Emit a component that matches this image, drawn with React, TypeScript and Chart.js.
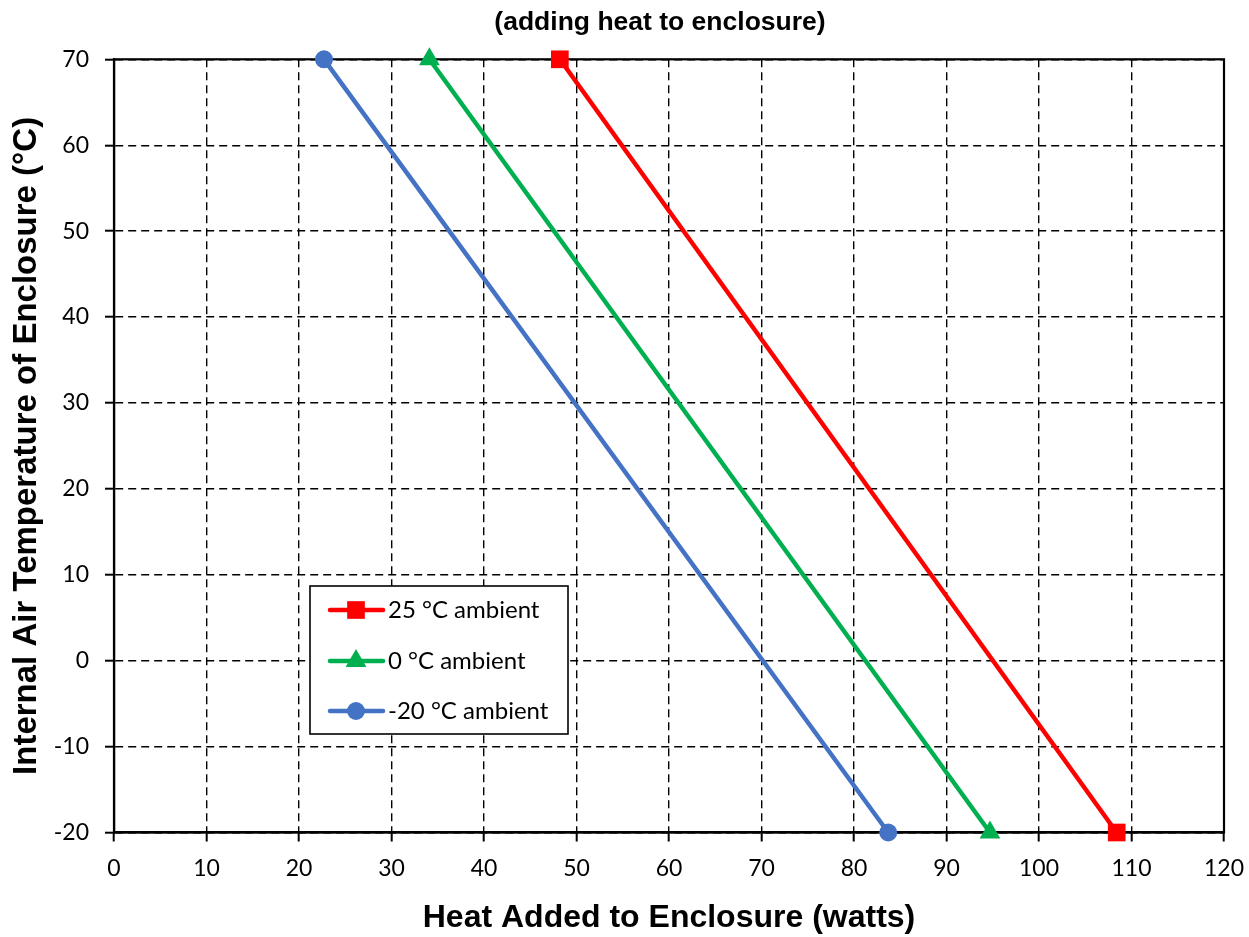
import React, { useEffect, useRef } from "react";
import { Chart, registerables } from "chart.js";

Chart.register(...registerables);

// ---- data ----
const seriesLabels = ["25 °C ambient", "0 °C ambient", "-20 °C ambient"];
const seriesColors = ["#FF0000", "#00B050", "#4472C4"];
const seriesMarkers = ["rect", "triangle", "circle"];
const temperatures = [70, -20];
const heat25Ambient = [48.2, 108.4];
const heat0Ambient = [34.1, 94.7];
const heatMinus20Ambient = [22.7, 83.7];
const chartTitle = "(adding heat to enclosure)";
const xAxisTitle = "Heat Added to Enclosure (watts)";
const yAxisTitle = "Internal Air Temperature of Enclosure (°C)";
const xRange = [0, 120, 10];
const yRange = [-20, 70, 10];

const seriesHeat = [heat25Ambient, heat0Ambient, heatMinus20Ambient];
const markerRadius: Record<string, number> = { rect: 12.5, triangle: 12, circle: 9 };

const TICK_FONT = "Lato, 'Open Sans', sans-serif";
const TITLE_FONT = "'Liberation Sans', Arial, sans-serif";

function drawMarker(ctx: CanvasRenderingContext2D, style: string, x: number, y: number, r: number) {
  ctx.beginPath();
  if (style === "rect") {
    const s = r * Math.SQRT1_2;
    ctx.rect(x - s, y - s, 2 * s, 2 * s);
  } else if (style === "triangle") {
    for (let k = 0; k < 3; k++) {
      const a = (k * 2 * Math.PI) / 3;
      const px = x + Math.sin(a) * r;
      const py = y - Math.cos(a) * r;
      if (k === 0) ctx.moveTo(px, py);
      else ctx.lineTo(px, py);
    }
    ctx.closePath();
  } else {
    ctx.arc(x, y, r, 0, Math.PI * 2);
  }
  ctx.fill();
}

const decorPlugin = {
  id: "decor",
  beforeDatasetsDraw(chart: any) {
    const { ctx, chartArea } = chart;
    ctx.save();
    ctx.strokeStyle = "#000";
    ctx.lineWidth = 2.2;
    ctx.strokeRect(chartArea.left, chartArea.top, chartArea.right - chartArea.left, chartArea.bottom - chartArea.top);
    ctx.restore();
  },
  afterDraw(chart: any) {
    const { ctx } = chart;
    ctx.save();
    // title
    ctx.fillStyle = "#000";
    ctx.font = `bold 26.5px ${TITLE_FONT}`;
    ctx.textAlign = "center";
    ctx.textBaseline = "middle";
    ctx.fillText(chartTitle, 660, 23);

    // legend
    const bx = 310, by = 586, bw = 258, bh = 148;
    ctx.fillStyle = "#fff";
    ctx.fillRect(bx, by, bw, bh);
    ctx.strokeStyle = "#000";
    ctx.lineWidth = 1.6;
    ctx.strokeRect(bx, by, bw, bh);
    const rowY = [610, 661, 711];
    chart.data.datasets.forEach((ds: any, i: number) => {
      const y = rowY[i];
      ctx.strokeStyle = ds.borderColor;
      ctx.lineWidth = 4.5;
      ctx.lineCap = "round";
      ctx.beginPath();
      ctx.moveTo(330, y);
      ctx.lineTo(383, y);
      ctx.stroke();
      ctx.fillStyle = ds.backgroundColor;
      drawMarker(ctx, ds.pointStyle, 356, y, ds.pointRadius);
      ctx.fillStyle = "#000";
      ctx.font = `24px ${TICK_FONT}`;
      ctx.textAlign = "left";
      ctx.textBaseline = "middle";
      ctx.fillText(ds.label, 388, y);
    });
    ctx.restore();
  },
};

export default function App() {
  const ref = useRef<HTMLCanvasElement | null>(null);

  useEffect(() => {
    document.body.style.margin = "0";
    const canvas = ref.current;
    if (!canvas) return;
    const datasets = seriesLabels.map((label, i) => ({
      label,
      data: temperatures.map((t, j) => ({ x: seriesHeat[i][j], y: t })),
      borderColor: seriesColors[i],
      backgroundColor: seriesColors[i],
      borderWidth: 4.5,
      pointStyle: seriesMarkers[i],
      pointRadius: markerRadius[seriesMarkers[i]],
      pointHoverRadius: markerRadius[seriesMarkers[i]],
      pointBorderWidth: 0,
      showLine: true,
      clip: false as any,
    }));

    const chart = new Chart(canvas, {
      type: "scatter",
      data: { datasets: datasets as any },
      plugins: [decorPlugin as any],
      options: {
        animation: false,
        responsive: true,
        maintainAspectRatio: false,
        layout: { padding: { top: 59.3, right: 25, left: 0, bottom: 0 } },
        plugins: {
          legend: { display: false },
          title: { display: false },
          tooltip: { enabled: false },
        },
        scales: {
          x: {
            type: "linear",
            min: xRange[0],
            max: xRange[1],
            ticks: {
              stepSize: xRange[2],
              color: "#000",
              font: { family: TICK_FONT, size: 23 },
              padding: 13,
              maxRotation: 0,
            },
            grid: {
              color: "#000",
              lineWidth: 1.4,
              tickLength: 9,
              tickColor: "#000",
              tickWidth: 2,
            },
            border: { display: true, color: "#000", width: 2.2, dash: [8, 5] },
            title: {
              display: true,
              text: xAxisTitle,
              color: "#000",
              font: { family: TITLE_FONT, size: 32, weight: "bold" },
              padding: { top: 0, bottom: 0 },
            },
            afterFit(scale: any) {
              scale.height = 104.5;
              scale.paddingLeft = 0;
              scale.paddingRight = 0;
            },
          },
          y: {
            type: "linear",
            min: yRange[0],
            max: yRange[1],
            ticks: {
              stepSize: yRange[2],
              color: "#000",
              font: { family: TICK_FONT, size: 23 },
              padding: 16,
            },
            grid: {
              color: "#000",
              lineWidth: 1.4,
              tickLength: 9,
              tickColor: "#000",
              tickWidth: 2,
            },
            border: { display: true, color: "#000", width: 2.2, dash: [8, 5] },
            title: {
              display: true,
              text: yAxisTitle,
              color: "#000",
              font: { family: TITLE_FONT, size: 33, weight: "bold" },
              padding: { top: 7, bottom: 0 },
            },
            afterFit(scale: any) {
              scale.width = 114;
              scale.paddingTop = 0;
              scale.paddingBottom = 0;
            },
          },
        },
      } as any,
    });
    return () => chart.destroy();
  }, []);

  return (
    <div style={{ position: "absolute", left: 0, top: 0, width: 1249, height: 937 }}>
      <canvas ref={ref} />
    </div>
  );
}
